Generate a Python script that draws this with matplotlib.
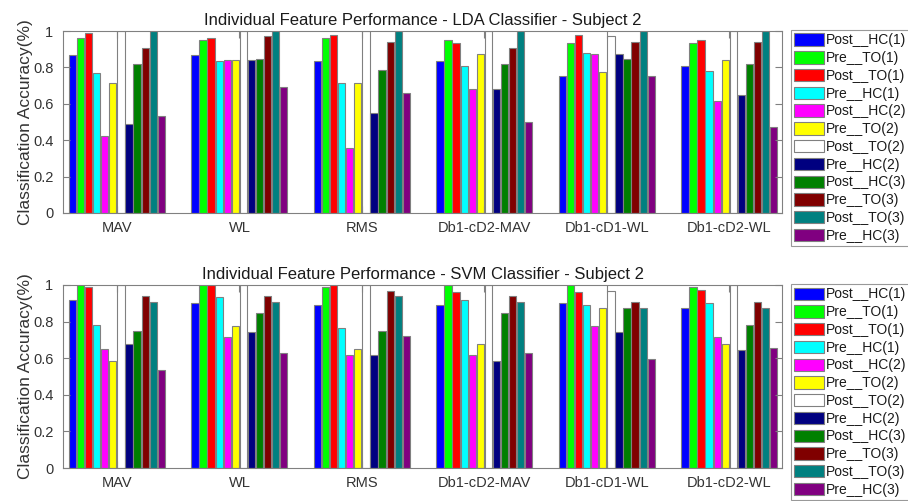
import numpy as np
import matplotlib.pyplot as plt
from matplotlib.patches import Patch

plt.rcParams['font.family'] = ['Liberation Sans', 'DejaVu Sans']

# feature groups on the x axis
features = ['MAV', 'WL', 'RMS', 'Db1-cD2-MAV', 'Db1-cD1-WL', 'Db1-cD2-WL']

# the 12 movement classes (one bar each per feature)
classes = ['Post__HC(1)', 'Pre__TO(1)', 'Post__TO(1)', 'Pre__HC(1)',
           'Post__HC(2)', 'Pre__TO(2)', 'Post__TO(2)', 'Pre__HC(2)',
           'Post__HC(3)', 'Pre__TO(3)', 'Post__TO(3)', 'Pre__HC(3)']
class_colors = ['#0000ff', '#00ff00', '#ff0000', '#00ffff',
                '#ff00ff', '#ffff00', '#ffffff', '#000080',
                '#008000', '#800000', '#008080', '#800080']

# LDA accuracies, one list per feature (in class order)
lda_mav = [0.866, 0.962, 0.990, 0.768, 0.423, 0.715, 1.000, 0.487, 0.816, 0.909, 1.000, 0.532]
lda_wl = [0.866, 0.950, 0.962, 0.836, 0.841, 0.841, 1.000, 0.843, 0.847, 0.973, 1.000, 0.690]
lda_rms = [0.836, 0.962, 0.979, 0.712, 0.357, 0.715, 1.000, 0.550, 0.783, 0.940, 1.000, 0.657]
lda_cd2_mav = [0.836, 0.950, 0.935, 0.808, 0.679, 0.874, 1.000, 0.679, 0.816, 0.907, 1.000, 0.501]
lda_cd1_wl = [0.752, 0.935, 0.979, 0.878, 0.874, 0.776, 0.971, 0.876, 0.847, 0.940, 1.000, 0.752]
lda_cd2_wl = [0.808, 0.935, 0.950, 0.781, 0.618, 0.843, 1.000, 0.647, 0.816, 0.940, 1.000, 0.470]

# SVM accuracies
svm_mav = [0.920, 1.000, 0.987, 0.780, 0.649, 0.583, 1.000, 0.679, 0.750, 0.940, 0.907, 0.534]
svm_wl = [0.903, 1.000, 1.000, 0.933, 0.714, 0.776, 1.000, 0.745, 0.845, 0.940, 0.907, 0.627]
svm_rms = [0.892, 0.987, 1.000, 0.767, 0.617, 0.649, 1.000, 0.617, 0.750, 0.969, 0.938, 0.720]
svm_cd2_mav = [0.892, 1.000, 0.960, 0.920, 0.617, 0.679, 1.000, 0.583, 0.845, 0.938, 0.907, 0.627]
svm_cd1_wl = [0.903, 1.000, 0.960, 0.892, 0.776, 0.872, 0.969, 0.745, 0.874, 0.907, 0.874, 0.594]
svm_cd2_wl = [0.876, 0.987, 0.974, 0.903, 0.714, 0.679, 1.000, 0.646, 0.783, 0.907, 0.874, 0.657]

lda = np.array([lda_mav, lda_wl, lda_rms, lda_cd2_mav, lda_cd1_wl, lda_cd2_wl])
svm = np.array([svm_mav, svm_wl, svm_rms, svm_cd2_mav, svm_cd1_wl, svm_cd2_wl])

edge = '#808080'
slot = 0.066
x = np.arange(1, len(features) + 1)

fig = plt.figure(figsize=(9.08, 5.01), dpi=100)

W, H = 908.0, 501.0
ax_top = fig.add_axes([63 / W, 1 - 213 / H, (782 - 63) / W, 182 / H])
ax_bot = fig.add_axes([63 / W, 1 - 468 / H, (782 - 63) / W, 183 / H])

for ax, vals, clf in [(ax_top, lda, 'LDA'), (ax_bot, svm, 'SVM')]:
    for i in range(len(classes)):
        ax.bar(x + (i - 5.5) * slot, vals[:, i], width=slot * 0.9,
               color=class_colors[i], edgecolor=edge, linewidth=0.8)
    ax.set_xlim(0.56, 6.43)
    ax.set_ylim(0, 1)
    ax.set_xticks(x)
    ax.set_xticklabels(features)
    ax.set_yticks([0, 0.2, 0.4, 0.6, 0.8, 1])
    ax.set_yticklabels(['0', '0.2', '0.4', '0.6', '0.8', '1'])
    ax.tick_params(axis='both', direction='in', length=5, color=edge,
                   labelcolor='#333333', labelsize=10.5, top=True, right=True)
    ax.tick_params(axis='y', pad=7)
    ax.tick_params(axis='x', pad=6)
    for sp in ax.spines.values():
        sp.set_color(edge)
        sp.set_linewidth(0.8)
    ax.set_title('Individual Feature Performance - ' + clf + ' Classifier - Subject 2',
                 fontsize=12, pad=4, color='#1a1a1a')
    ax.set_ylabel('Classification Accuracy(%)', fontsize=12.5, color='#333333', labelpad=0)

handles = [Patch(facecolor=c, edgecolor=edge, linewidth=0.8) for c in class_colors]
for top_px in [30, 284]:
    leg = fig.legend(handles, classes, loc='upper left',
                     bbox_to_anchor=(791 / W, 1 - top_px / H), fontsize=10,
                     frameon=True, fancybox=False, edgecolor=edge, borderaxespad=0,
                     handlelength=2.1, handleheight=1.0, handletextpad=0.15,
                     labelspacing=0.27, borderpad=0.25)
    leg.get_frame().set_linewidth(0.8)
    for t in leg.get_texts():
        t.set_color('#1a1a1a')

fig.savefig('out.png', dpi=100)
